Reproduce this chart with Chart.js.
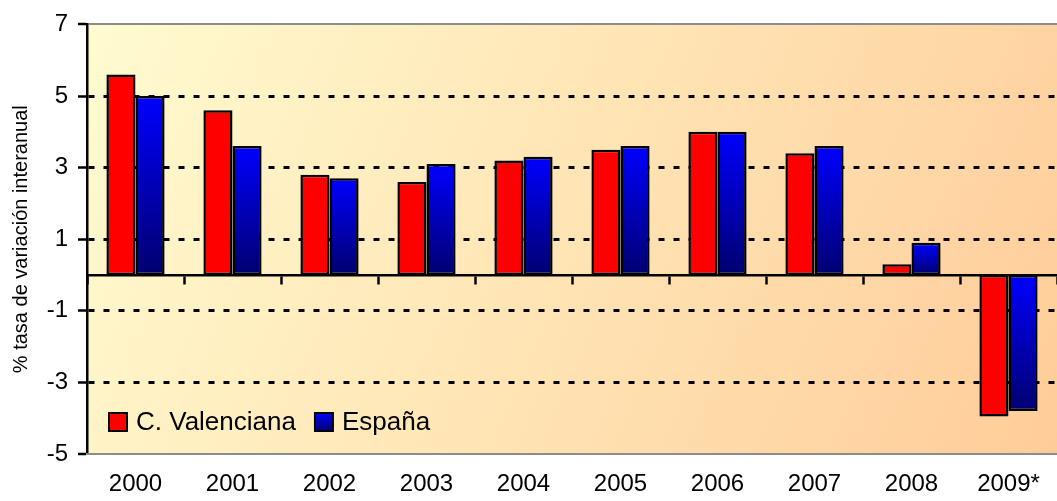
<!DOCTYPE html>
<html lang="es">
<head>
<meta charset="utf-8">
<title>Tasa de variación interanual</title>
<script src="https://cdn.jsdelivr.net/npm/chart.js@4.4.1/dist/chart.umd.min.js"></script>
<style>
  html, body { margin: 0; padding: 0; background: #fff; }
  .chart-wrap { position: relative; width: 1057px; height: 501px; }
</style>
</head>
<body>
<div class="chart-wrap">
  <canvas id="variacionChart"></canvas>
</div>
<script>
// datos
var years = ["2000", "2001", "2002", "2003", "2004", "2005", "2006", "2007", "2008", "2009*"];
var valenciana = [5.6, 4.6, 2.8, 2.6, 3.2, 3.5, 4.0, 3.4, 0.3, -3.95];
var espana = [5.0, 3.6, 2.7, 3.1, 3.3, 3.6, 4.0, 3.6, 0.9, -3.8];
var seriesNames = ["C. Valenciana", "España"];
var yTicks = [-5, -3, -1, 1, 3, 5, 7];

var fontFamily = "'Liberation Sans', Arial, Helvetica, sans-serif";

function blueGradient(ctx, top, bottom) {
  var g = ctx.createLinearGradient(0, top, 0, bottom);
  g.addColorStop(0, '#0000FF');
  g.addColorStop(1, '#000070');
  return g;
}

// fondo degradado del area del grafico
var plotBackground = {
  id: 'plotBackground',
  beforeDraw: function (chart) {
    var a = chart.chartArea;
    if (!a) return;
    var ctx = chart.ctx;
    var g = ctx.createLinearGradient(a.left, a.top, a.right, a.bottom);
    g.addColorStop(0, '#FFFBD0');
    g.addColorStop(0.5, '#FFE4B4');
    g.addColorStop(1, '#FFCC99');
    ctx.save();
    ctx.fillStyle = g;
    ctx.fillRect(a.left, a.top, a.right - a.left, a.bottom - a.top);
    ctx.restore();
  }
};

// leyenda dentro del area, abajo a la izquierda
var insideLegend = {
  id: 'insideLegend',
  afterDraw: function (chart) {
    var a = chart.chartArea;
    var ctx = chart.ctx;
    var x = a.left + 22;
    var boxTop = a.bottom - 41;
    var box = 18;
    ctx.save();
    ctx.font = '26px ' + fontFamily;
    ctx.textBaseline = 'middle';
    ctx.textAlign = 'left';
    seriesNames.forEach(function (name, i) {
      ctx.fillStyle = i === 0 ? '#FF0000' : blueGradient(ctx, boxTop, boxTop + box);
      ctx.fillRect(x, boxTop, box, box);
      ctx.lineWidth = 2;
      ctx.strokeStyle = '#000';
      ctx.strokeRect(x, boxTop, box, box);
      ctx.fillStyle = '#000';
      ctx.fillText(name, x + box + 9, boxTop + box / 2 + 1);
      x += box + 9 + ctx.measureText(name).width + 19;
    });
    ctx.restore();
  }
};

var ctxEl = document.getElementById('variacionChart');
new Chart(ctxEl, {
  type: 'bar',
  data: {
    labels: years,
    datasets: [{
      label: seriesNames[0],
      data: valenciana,
      backgroundColor: '#FF0000',
      borderColor: '#000',
      borderWidth: 2.5,
      borderSkipped: false,
      categoryPercentage: 0.6,
      barPercentage: 1.0
    }, {
      label: seriesNames[1],
      data: espana,
      backgroundColor: function (c) {
        var y = c.chart.scales.y;
        if (!y || c.raw === undefined) return '#0000FF';
        var p = y.getPixelForValue(c.raw);
        var b = y.getPixelForValue(0);
        if (!isFinite(p) || !isFinite(b)) return '#0000FF';
        return blueGradient(c.chart.ctx, Math.min(p, b), Math.max(p, b));
      },
      borderColor: '#000',
      borderWidth: 2.5,
      borderSkipped: false,
      categoryPercentage: 0.6,
      barPercentage: 1.0
    }]
  },
  options: {
    responsive: true,
    maintainAspectRatio: false,
    animation: false,
    layout: {
      padding: { top: 24, right: 0, left: 0, bottom: 0 }
    },
    plugins: {
      legend: { display: false },
      tooltip: { enabled: false }
    },
    scales: {
      y: {
        min: -5,
        max: 7,
        afterBuildTicks: function (scale) {
          scale.ticks = yTicks.map(function (v) { return { value: v }; });
        },
        afterFit: function (scale) { scale.width = 87; },
        border: {
          display: true,
          color: '#000',
          width: 2.5,
          dash: function (c) {
            if (!c.tick) return [];
            return (c.tick.value === 7 || c.tick.value === -5) ? [] : [6, 9];
          }
        },
        grid: {
          color: function (c) {
            if (!c.tick) return '#000';
            return (c.tick.value === 7 || c.tick.value === -5) ? '#8C8C8C' : '#000';
          },
          lineWidth: function (c) {
            if (!c.tick) return 2;
            return (c.tick.value === 7 || c.tick.value === -5) ? 2 : 3;
          },
          tickLength: 9,
          tickColor: '#000',
          tickWidth: 2.5
        },
        ticks: {
          color: '#000',
          padding: 10,
          font: { family: fontFamily, size: 24 }
        },
        title: {
          display: true,
          text: '% tasa de variación interanual',
          color: '#000',
          padding: { top: 9, bottom: 0 },
          font: { family: fontFamily, size: 20 }
        }
      },
      x: {
        position: 'bottom',
        afterFit: function (scale) { scale.height = 47; },
        border: { display: true, color: '#8C8C8C', width: 2 },
        grid: { display: false, drawTicks: false },
        ticks: {
          color: '#000',
          padding: 16,
          font: { family: fontFamily, size: 24 }
        }
      },
      // eje en el cero con marcas entre categorias
      x2: {
        type: 'category',
        labels: years,
        position: { y: 0 },
        offset: true,
        border: { display: true, color: '#000', width: 2.5 },
        grid: {
          offset: true,
          drawOnChartArea: false,
          drawTicks: true,
          tickLength: 8,
          tickColor: '#000',
          tickWidth: 2.5
        },
        ticks: { display: false }
      }
    }
  },
  plugins: [plotBackground, insideLegend]
});
</script>
</body>
</html>
